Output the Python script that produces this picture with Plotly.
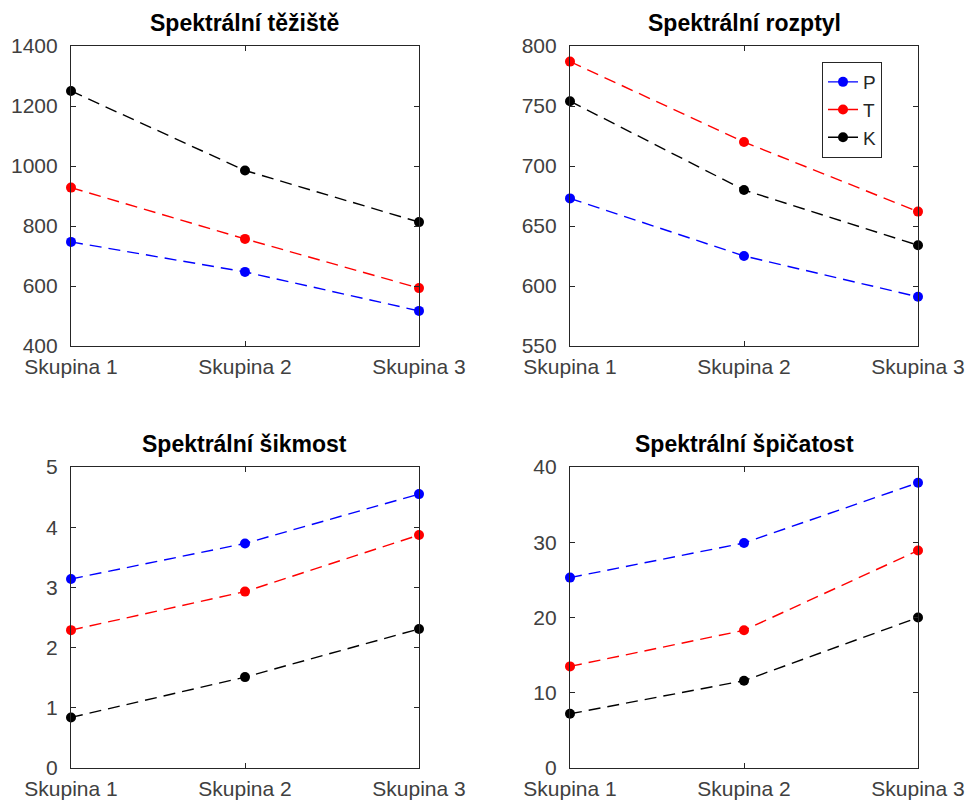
import plotly.graph_objects as go
from plotly.subplots import make_subplots

# Groups on the x axis
groups = ["Skupina 1", "Skupina 2", "Skupina 3"]
group_pos = [1, 2, 3]

# Series names and colours
series_names = ["P", "T", "K"]
series_colors = ["#0000ff", "#ff0000", "#000000"]

# Spectral centroid
teziste_P = [747, 647, 517]
teziste_T = [928, 757, 593]
teziste_K = [1250, 985, 813]

# Spectral spread
rozptyl_P = [673, 625, 591]
rozptyl_T = [787, 720, 662]
rozptyl_K = [754, 680, 634]

# Spectral skewness
sikmost_P = [3.14, 3.73, 4.55]
sikmost_T = [2.29, 2.93, 3.87]
sikmost_K = [0.84, 1.51, 2.31]

# Spectral kurtosis
spicatost_P = [25.3, 29.9, 37.9]
spicatost_T = [13.5, 18.3, 28.9]
spicatost_K = [7.2, 11.6, 20.0]

panels = [
    ("Spektrální těžiště", [teziste_P, teziste_T, teziste_K], [400, 1400], 200),
    ("Spektrální rozptyl", [rozptyl_P, rozptyl_T, rozptyl_K], [550, 800], 50),
    ("Spektrální šikmost", [sikmost_P, sikmost_T, sikmost_K], [0, 5], 1),
    ("Spektrální špičatost", [spicatost_P, spicatost_T, spicatost_K], [0, 40], 10),
]

W, H = 971, 805
x_domains = [[71 / W, 419 / W], [570 / W, 918 / W]]
y_domains = [[1 - 346 / H, 1 - 46 / H], [1 - 768 / H, 1 - 467 / H]]

fig = make_subplots(rows=2, cols=2)

FONT = "Liberation Sans, Arial, Helvetica, sans-serif"
AXIS_COLOR = "#262626"

for i, (title, values, yrange, dtick) in enumerate(panels):
    r, c = i // 2 + 1, i % 2 + 1
    for name, color, vals in zip(series_names, series_colors, values):
        fig.add_trace(
            go.Scatter(
                x=group_pos,
                y=vals,
                mode="lines+markers",
                name=name,
                legendgroup=name,
                showlegend=(i == 1),
                line=dict(color=color, width=1.4, dash="12px,7px"),
                marker=dict(color=color, size=10, symbol="circle"),
                cliponaxis=False,
            ),
            row=r,
            col=c,
        )
    fig.update_xaxes(
        domain=x_domains[c - 1],
        range=[1, 3],
        tickvals=group_pos,
        ticktext=groups,
        row=r,
        col=c,
    )
    fig.update_yaxes(
        domain=y_domains[r - 1],
        range=yrange,
        dtick=dtick,
        tick0=yrange[0],
        row=r,
        col=c,
    )
    xd = x_domains[c - 1]
    yd = y_domains[r - 1]
    fig.add_annotation(
        text="<b>" + title + "</b>",
        x=(xd[0] + xd[1]) / 2,
        y=yd[1],
        xref="paper",
        yref="paper",
        xanchor="center",
        yanchor="bottom",
        yshift=8,
        showarrow=False,
        font=dict(family=FONT, size=23, color="#000000"),
    )

fig.update_xaxes(
    automargin=False,
    showgrid=False,
    zeroline=False,
    showline=True,
    linecolor=AXIS_COLOR,
    linewidth=1.2,
    mirror="ticks",
    ticks="inside",
    ticklen=5,
    tickcolor=AXIS_COLOR,
    tickfont=dict(family=FONT, size=21, color="#404040"),
    ticklabelstandoff=2,
)
fig.update_yaxes(
    automargin=False,
    showgrid=False,
    zeroline=False,
    showline=True,
    linecolor=AXIS_COLOR,
    linewidth=1.2,
    mirror="ticks",
    ticks="inside",
    ticklen=5,
    tickcolor=AXIS_COLOR,
    tickfont=dict(family=FONT, size=21, color="#404040"),
    ticklabelstandoff=8,
)

fig.update_layout(
    width=W,
    height=H,
    margin=dict(l=0, r=0, t=0, b=0, autoexpand=False),
    paper_bgcolor="white",
    plot_bgcolor="white",
    showlegend=True,
    legend=dict(
        x=822 / W,
        y=1 - 62 / H,
        xanchor="left",
        yanchor="top",
        bgcolor="white",
        bordercolor="#262626",
        borderwidth=1,
        font=dict(family=FONT, size=19, color="#262626"),
        tracegroupgap=0,
        itemwidth=30,
    ),
)

fig.write_html("out.html")
